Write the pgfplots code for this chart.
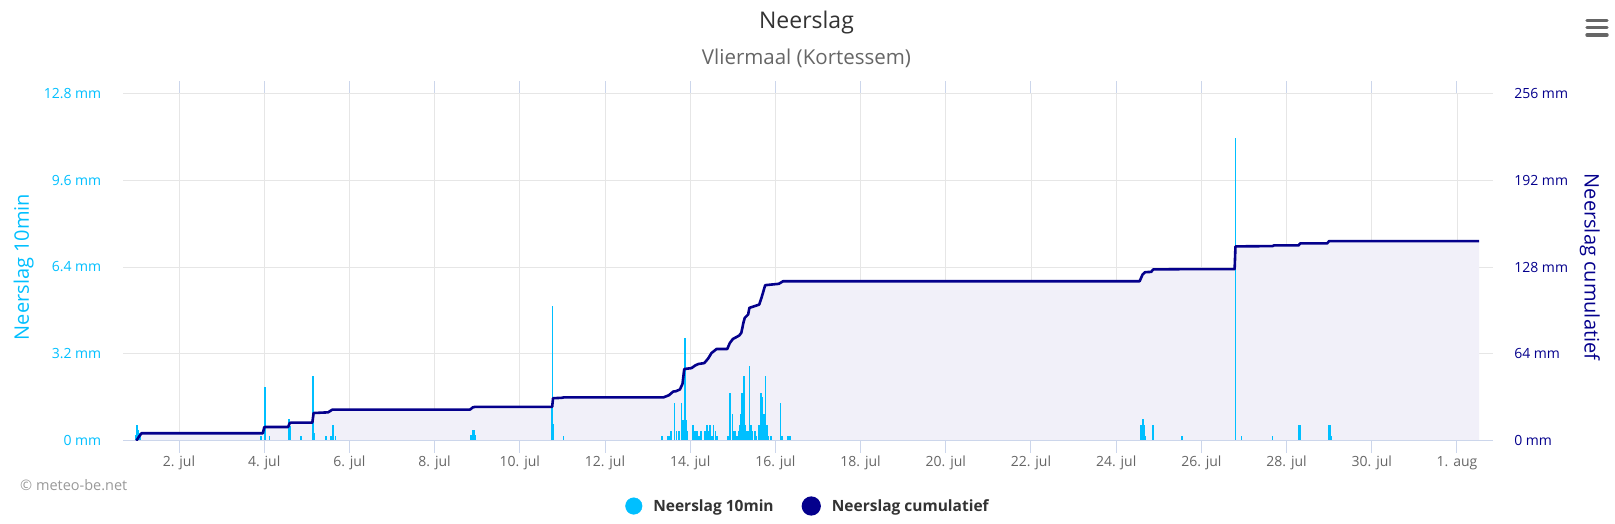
\documentclass[border=0pt]{standalone}
\usepackage{fontspec}
\setmainfont{Open Sans}
\usepackage{pgfplots}
\pgfplotsset{compat=1.18}

\definecolor{rain}{RGB}{0,191,255}
\definecolor{cum}{RGB}{4,0,140}
\definecolor{areafill}{RGB}{241,240,249}
\definecolor{gridc}{RGB}{230,230,230}
\definecolor{axisc}{RGB}{204,214,235}
\definecolor{titlec}{RGB}{51,51,51}
\definecolor{subc}{RGB}{102,102,102}
\definecolor{copyc}{RGB}{153,153,153}

\pgfplotsset{
  base/.style={
    at={(123pt,82.3pt)}, anchor=south west,
    scale only axis, width=1370pt, height=347.4pt,
    xmin=0.6854, xmax=32.845,
    xtick={2,4,...,32},
    axis line style={draw=none},
    ytick style={draw=none},
    ticklabel style={font=\fontsize{14}{16}\selectfont},
  }
}

\begin{document}
\begin{tikzpicture}
\path[use as bounding box] (0,0) rectangle (1615pt,523pt);

% grid, area and right axis
\begin{axis}[base,
  ymin=0, ymax=256,
  ytick={0,64,128,192,256},
  yticklabels={0 mm,64 mm,128 mm,192 mm,256 mm},
  yticklabel pos=right,
  yticklabel style={text=cum, anchor=west, xshift=17.8pt},
  xticklabels={},
  xtick style={draw=none},
  grid=major,
  major grid style={gridc, line width=1pt},
  ylabel={Neerslag cumulatief},
  ylabel style={at={(axis description cs:1.0708,0.5)}, anchor=center, rotate=180,
    text=cum, font=\fontsize{20}{24}\selectfont},
]
\addplot[draw=none, fill=areafill] coordinates {
(1.0,0) (1.05,2.5) (1.12,5.5) (3.97,5.5) (4.0,9.8) (4.02,10.1) (4.56,10.1)
(4.6,13.0) (4.63,13.3) (5.13,13.3) (5.16,20.4) (5.5,20.9) (5.6,22.9)
(8.83,22.9) (8.9,24.6) (8.95,24.9) (10.76,24.9) (10.78,31.3) (10.98,31.6)
(11.03,31.9) (13.37,31.9) (13.5,33.5) (13.6,36.2) (13.67,36.5) (13.76,37.8)
(13.82,42) (13.86,52.8) (14.03,53.5) (14.12,55.5) (14.19,56.5) (14.33,57.2)
(14.42,60.5) (14.5,64.6) (14.62,67.6) (14.87,67.6) (14.93,72) (15.0,74.9)
(15.15,77.5) (15.2,79.5) (15.25,87) (15.28,90.5) (15.36,93) (15.39,97.9)
(15.62,100.3) (15.68,106) (15.76,114.6) (16.08,115.6) (16.18,117.5)
(24.55,117.5) (24.62,122.5) (24.68,124.2) (24.82,124.4) (24.87,126.2)
(25.55,126.4) (26.78,126.4) (26.8,143.2) (27.67,143.4) (27.7,143.9)
(28.28,143.9) (28.32,145.4) (28.95,145.4) (29.0,147.1) (32.52,147.1)
(32.52,0)
} \closedcycle;
\end{axis}

% 10 minute bars and left axis, x ticks
\begin{axis}[base,
  ymin=0, ymax=12.8,
  ytick={0,3.2,6.4,9.6,12.8},
  yticklabels={0 mm,3.2 mm,6.4 mm,9.6 mm,12.8 mm},
  yticklabel style={text=rain, xshift=-6.2pt},
  xticklabels={2. jul,4. jul,6. jul,8. jul,10. jul,12. jul,14. jul,16. jul,
    18. jul,20. jul,22. jul,24. jul,26. jul,28. jul,30. jul,1. aug},
  xticklabel style={text=subc},
  tick align=outside,
  major tick length=12pt,
  xtick style={draw=axisc, line width=1pt},
  ylabel={Neerslag 10min},
  ylabel style={at={(axis description cs:-0.0725,0.5)}, anchor=center,
    text=rain, font=\fontsize{20}{24}\selectfont},
]
\addplot[ycomb, rain, line width=1.6pt] coordinates {
(0.99,0.2) (1.0,0.4) (1.02,0.58) (1.04,0.4) (1.06,0.3) (1.08,0.2)
(3.92,0.19) (4.02,1.97) (4.12,0.19)
(4.58,0.8) (4.6,0.55) (4.62,0.4) (4.86,0.19)
(5.14,2.37) (5.16,1.75) (5.17,0.3)
(5.45,0.19) (5.57,0.19) (5.61,0.58) (5.67,0.19)
(8.85,0.2) (8.9,0.4) (8.93,0.4) (8.96,0.2)
(10.76,1.4) (10.77,4.95) (10.79,0.6) (11.03,0.19)
(13.345,0.17) (13.48,0.17) (13.53,0.17) (13.55,0.36) (13.63,1.38) (13.68,0.36)
(13.74,0.36) (13.80,1.38) (13.83,0.77) (13.88,3.78) (13.90,0.77) (13.94,0.36)
(14.06,0.58) (14.11,0.36) (14.16,0.36) (14.21,0.17) (14.25,0.36) (14.35,0.36)
(14.39,0.58) (14.43,0.36) (14.46,0.58) (14.51,0.17) (14.55,0.58) (14.59,0.36)
(14.63,0.17) (14.89,0.17) (14.93,1.75) (14.95,0.58) (14.99,0.97) (15.03,0.36)
(15.06,0.36) (15.10,0.17) (15.13,0.36) (15.17,0.58) (15.19,0.97) (15.22,1.75)
(15.26,2.37) (15.29,0.58) (15.32,0.36) (15.35,0.36) (15.39,2.77) (15.43,0.58)
(15.46,0.36) (15.52,0.36) (15.56,0.17) (15.61,0.58) (15.66,1.75) (15.69,1.6)
(15.71,0.8) (15.73,0.97) (15.77,2.37) (15.80,0.58) (15.83,0.17) (15.90,0.17)
(16.12,1.38) (16.15,0.17) (16.29,0.17) (16.34,0.17)
(24.57,0.58) (24.60,0.58) (24.63,0.8) (24.65,0.58) (24.67,0.19)
(24.85,0.4) (24.87,0.58) (25.55,0.17)
(26.80,11.15) (26.94,0.17) (27.67,0.17)
(28.29,0.58) (28.31,0.58) (28.33,0.3)
(29.0,0.58) (29.02,0.58) (29.05,0.17)
};
\end{axis}

% cumulative line and legend
\begin{axis}[base,
  ymin=0, ymax=256,
  hide axis,
  legend style={at={(0.5,-0.188)}, anchor=center, draw=none, fill=none,
    legend columns=2, font=\fontsize{15.5}{18}\selectfont\bfseries,
    text=titlec,
    /tikz/every odd column/.append style={column sep=9pt},
    /tikz/every even column/.append style={column sep=26pt}},
  legend cell align=left,
]
\draw[axisc, line width=1pt] (rel axis cs:0,0) -- (rel axis cs:1,0);
\addlegendimage{legend image code/.code={\fill[rain] (0pt,0pt) circle (8.3pt);}}
\addlegendentry{Neerslag 10min}
\addplot[cum, line width=2.6pt, line join=round,
  legend image code/.code={\fill[cum] (0pt,0pt) circle (8.3pt);}] coordinates {
(1.0,0) (1.05,2.5) (1.12,5.5) (3.97,5.5) (4.0,9.8) (4.02,10.1) (4.56,10.1)
(4.6,13.0) (4.63,13.3) (5.13,13.3) (5.16,20.4) (5.5,20.9) (5.6,22.9)
(8.83,22.9) (8.9,24.6) (8.95,24.9) (10.76,24.9) (10.78,31.3) (10.98,31.6)
(11.03,31.9) (13.37,31.9) (13.5,33.5) (13.6,36.2) (13.67,36.5) (13.76,37.8)
(13.82,42) (13.86,52.8) (14.03,53.5) (14.12,55.5) (14.19,56.5) (14.33,57.2)
(14.42,60.5) (14.5,64.6) (14.62,67.6) (14.87,67.6) (14.93,72) (15.0,74.9)
(15.15,77.5) (15.2,79.5) (15.25,87) (15.28,90.5) (15.36,93) (15.39,97.9)
(15.62,100.3) (15.68,106) (15.76,114.6) (16.08,115.6) (16.18,117.5)
(24.55,117.5) (24.62,122.5) (24.68,124.2) (24.82,124.4) (24.87,126.2)
(25.55,126.4) (26.78,126.4) (26.8,143.2) (27.67,143.4) (27.7,143.9)
(28.28,143.9) (28.32,145.4) (28.95,145.4) (29.0,147.1) (32.52,147.1)
};
\addlegendentry{Neerslag cumulatief}
\end{axis}

% titles and credits
\node[anchor=base, text=titlec, font=\fontsize{23}{27}\selectfont] at (806.5pt,494.7pt) {Neerslag};
\node[anchor=base, text=subc, font=\fontsize{20.5}{24}\selectfont] at (806.5pt,458pt) {Vliermaal (Kortessem)};
\node[anchor=west, text=copyc, font=\fontsize{14.5}{17}\selectfont, inner sep=0pt] at (20pt,38pt) {© meteo-be.net};
% menu icon
\foreach \yy in {502.4,495.2,488} {
  \draw[subc, line width=3.4pt, line cap=round] (1587pt,\yy pt) -- (1607pt,\yy pt);
}
\end{tikzpicture}
\end{document}
